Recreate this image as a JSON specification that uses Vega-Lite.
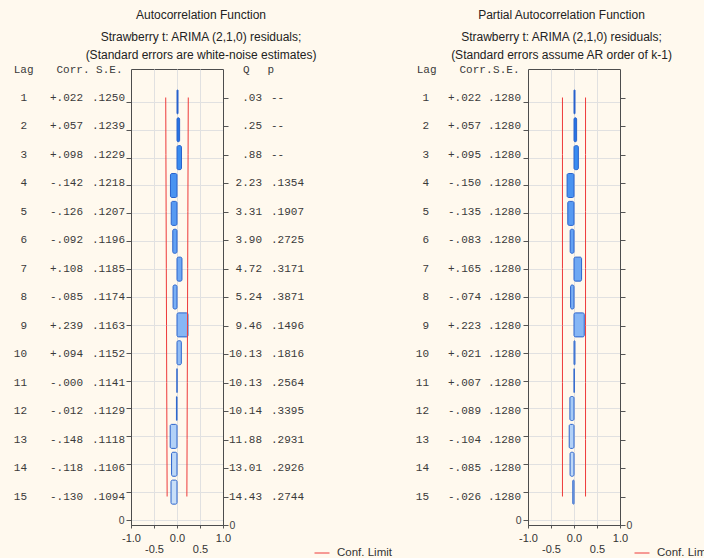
{
  "$schema": "https://vega.github.io/schema/vega-lite/v6.json",
  "background": "#FFF9EE",
  "padding": {"left": 5, "top": 8, "right": 0, "bottom": 0},
  "bounds": "flush",
  "spacing": 0,
  "resolve": {"scale": {"stroke": "independent"}, "legend": {"stroke": "independent"}},
  "config": {
    "view": {"stroke": null},
    "concat": {"spacing": 0},
    "font": "Liberation Sans",
    "axis": {"labelFont": "Liberation Sans"},
    "legend": {"labelFont": "Liberation Sans"},
    "title": {"anchor": "middle", "frame": "group", "offset": 7, "font": "Liberation Sans", "fontSize": 12, "fontWeight": "normal", "color": "#222222", "subtitleFont": "Liberation Sans", "subtitleFontSize": 12, "subtitleColor": "#222222", "subtitlePadding": 10, "subtitleLineHeight": 18}
  },
  "datasets": {
    "acf": [
      {"lag": 1, "corr": 0.022, "ct": "+.022", "se": ".1250", "q": ".03", "p": "--", "lo": -0.2450, "hi": 0.2450},
      {"lag": 2, "corr": 0.057, "ct": "+.057", "se": ".1239", "q": ".25", "p": "--", "lo": -0.2428, "hi": 0.2428},
      {"lag": 3, "corr": 0.098, "ct": "+.098", "se": ".1229", "q": ".88", "p": "--", "lo": -0.2409, "hi": 0.2409},
      {"lag": 4, "corr": -0.142, "ct": "-.142", "se": ".1218", "q": "2.23", "p": ".1354", "lo": -0.2387, "hi": 0.2387},
      {"lag": 5, "corr": -0.126, "ct": "-.126", "se": ".1207", "q": "3.31", "p": ".1907", "lo": -0.2366, "hi": 0.2366},
      {"lag": 6, "corr": -0.092, "ct": "-.092", "se": ".1196", "q": "3.90", "p": ".2725", "lo": -0.2344, "hi": 0.2344},
      {"lag": 7, "corr": 0.108, "ct": "+.108", "se": ".1185", "q": "4.72", "p": ".3171", "lo": -0.2323, "hi": 0.2323},
      {"lag": 8, "corr": -0.085, "ct": "-.085", "se": ".1174", "q": "5.24", "p": ".3871", "lo": -0.2301, "hi": 0.2301},
      {"lag": 9, "corr": 0.239, "ct": "+.239", "se": ".1163", "q": "9.46", "p": ".1496", "lo": -0.2279, "hi": 0.2279},
      {"lag": 10, "corr": 0.094, "ct": "+.094", "se": ".1152", "q": "10.13", "p": ".1816", "lo": -0.2258, "hi": 0.2258},
      {"lag": 11, "corr": -0.0004, "ct": "-.000", "se": ".1141", "q": "10.13", "p": ".2564", "lo": -0.2236, "hi": 0.2236},
      {"lag": 12, "corr": -0.012, "ct": "-.012", "se": ".1129", "q": "10.14", "p": ".3395", "lo": -0.2213, "hi": 0.2213},
      {"lag": 13, "corr": -0.148, "ct": "-.148", "se": ".1118", "q": "11.88", "p": ".2931", "lo": -0.2191, "hi": 0.2191},
      {"lag": 14, "corr": -0.118, "ct": "-.118", "se": ".1106", "q": "13.01", "p": ".2926", "lo": -0.2168, "hi": 0.2168},
      {"lag": 15, "corr": -0.130, "ct": "-.130", "se": ".1094", "q": "14.43", "p": ".2744", "lo": -0.2144, "hi": 0.2144}
    ],
    "pacf": [
      {"lag": 1, "corr": 0.022, "ct": "+.022", "se": ".1280", "lo": -0.2509, "hi": 0.2509},
      {"lag": 2, "corr": 0.057, "ct": "+.057", "se": ".1280", "lo": -0.2509, "hi": 0.2509},
      {"lag": 3, "corr": 0.095, "ct": "+.095", "se": ".1280", "lo": -0.2509, "hi": 0.2509},
      {"lag": 4, "corr": -0.150, "ct": "-.150", "se": ".1280", "lo": -0.2509, "hi": 0.2509},
      {"lag": 5, "corr": -0.135, "ct": "-.135", "se": ".1280", "lo": -0.2509, "hi": 0.2509},
      {"lag": 6, "corr": -0.083, "ct": "-.083", "se": ".1280", "lo": -0.2509, "hi": 0.2509},
      {"lag": 7, "corr": 0.165, "ct": "+.165", "se": ".1280", "lo": -0.2509, "hi": 0.2509},
      {"lag": 8, "corr": -0.074, "ct": "-.074", "se": ".1280", "lo": -0.2509, "hi": 0.2509},
      {"lag": 9, "corr": 0.223, "ct": "+.223", "se": ".1280", "lo": -0.2509, "hi": 0.2509},
      {"lag": 10, "corr": 0.021, "ct": "+.021", "se": ".1280", "lo": -0.2509, "hi": 0.2509},
      {"lag": 11, "corr": 0.007, "ct": "+.007", "se": ".1280", "lo": -0.2509, "hi": 0.2509},
      {"lag": 12, "corr": -0.089, "ct": "-.089", "se": ".1280", "lo": -0.2509, "hi": 0.2509},
      {"lag": 13, "corr": -0.104, "ct": "-.104", "se": ".1280", "lo": -0.2509, "hi": 0.2509},
      {"lag": 14, "corr": -0.085, "ct": "-.085", "se": ".1280", "lo": -0.2509, "hi": 0.2509},
      {"lag": 15, "corr": -0.026, "ct": "-.026", "se": ".1280", "lo": -0.2509, "hi": 0.2509}
    ]
  },
  "hconcat": [
    {
      "data": {"name": "acf"},
      "width": 22, "height": 456,
      "mark": {"type": "text", "align": "right", "baseline": "middle", "font": "Liberation Mono", "fontSize": 11, "color": "#3a3a3a"},
      "encoding": {
        "x": {"datum": "Lag", "type": "nominal", "scale": {"type": "point", "align": 1},
              "axis": {"orient": "top", "title": null, "domain": false, "ticks": false, "tickSize": 0, "labelPadding": 0, "labelBaseline": "middle", "labelAlign": "right", "labelAngle": 0, "labelOffset": 6, "labelFont": "Liberation Mono", "labelFontSize": 11, "labelColor": "#3a3a3a"}},
        "y": {"field": "lag", "type": "quantitative", "scale": {"domain": [0, 16], "reverse": true, "nice": false, "zero": false}, "axis": null},
        "text": {"field": "lag", "type": "nominal"}
      }
    },
    {
      "data": {"name": "acf"},
      "width": 56, "height": 456,
      "mark": {"type": "text", "align": "right", "baseline": "middle", "font": "Liberation Mono", "fontSize": 11, "color": "#3a3a3a"},
      "encoding": {
        "x": {"datum": "Corr.", "type": "nominal", "scale": {"type": "point", "align": 1},
              "axis": {"orient": "top", "title": null, "domain": false, "ticks": false, "tickSize": 0, "labelPadding": 0, "labelBaseline": "middle", "labelAlign": "right", "labelAngle": 0, "labelOffset": 6, "labelFont": "Liberation Mono", "labelFontSize": 11, "labelColor": "#3a3a3a"}},
        "y": {"field": "lag", "type": "quantitative", "scale": {"domain": [0, 16], "reverse": true, "nice": false, "zero": false}, "axis": null},
        "text": {"field": "ct", "type": "nominal"}
      }
    },
    {
      "data": {"name": "acf"},
      "width": 48, "height": 456,
      "mark": {"type": "text", "align": "right", "baseline": "middle", "font": "Liberation Mono", "fontSize": 11, "color": "#3a3a3a"},
      "encoding": {
        "x": {"datum": "S.E.", "type": "nominal", "scale": {"type": "point", "align": 0.875},
              "axis": {"orient": "top", "title": null, "domain": false, "ticks": false, "tickSize": 0, "labelPadding": 0, "labelBaseline": "middle", "labelAlign": "right", "labelAngle": 0, "labelOffset": -3, "labelFont": "Liberation Mono", "labelFontSize": 11, "labelColor": "#3a3a3a"}},
        "y": {"field": "lag", "type": "quantitative", "scale": {"domain": [0, 16], "reverse": true, "nice": false, "zero": false}, "axis": null},
        "text": {"field": "se", "type": "nominal"}
      }
    },
    {
      "data": {"name": "acf"},
      "title": {"text": "Autocorrelation Function", "subtitle": ["Strawberry t: ARIMA (2,1,0) residuals;", "(Standard errors are white-noise estimates)"], "dx": 24},
      "width": 92, "height": 456,
      "view": {"stroke": "#4d4d4d", "strokeWidth": 1},
      "layer": [
        {
          "mark": {"type": "bar", "orient": "horizontal", "height": 24, "stroke": "#2a63cc", "strokeWidth": 1, "cornerRadius": 1.5},
          "encoding": {
            "y": {"field": "lag", "type": "quantitative", "scale": {"domain": [0, 16], "reverse": true, "nice": false, "zero": false},
                  "axis": {"orient": "left", "title": null, "values": [1,2,3,4,5,6,7,8,9,10,11,12,13,14,15,16], "labelExpr": "datum.value == 16 ? '0' : ''", "grid": true, "gridColor": "#e1e1e1", "tickSize": 5, "tickColor": "#555555", "domainColor": "#4d4d4d", "labelPadding": 2, "labelFontSize": 10.5, "labelColor": "#444444", "labelBaseline": "middle", "labelFlush": false, "labelOverlap": false}},
            "x": {"field": "corr", "type": "quantitative", "scale": {"domain": [-1, 1], "nice": false, "zero": false},
                  "axis": {"title": null, "values": [-1, -0.5, 0, 0.5, 1], "format": ".1f", "labelExpr": "abs(datum.value) == 0.5 ? '' : replace(datum.label, '\u2212', '-')", "grid": true, "gridColor": "#e1e1e1", "tickSize": 3, "tickColor": "#555555", "domainColor": "#4d4d4d", "labelPadding": 4, "labelFontSize": 11, "labelColor": "#333333", "labelFlush": false, "labelOverlap": false, "labelBound": false}},
            "x2": {"datum": 0},
            "fill": {"field": "lag", "type": "quantitative", "scale": {"domain": [1, 3, 15], "range": ["#1a5ad6", "#3a8cf0", "#c9dff8"]}, "legend": null}
          }
        },
        {
          "mark": {"type": "line", "strokeWidth": 1},
          "encoding": {
            "y": {"field": "lag", "type": "quantitative", "scale": {"domain": [0, 16], "reverse": true, "nice": false, "zero": false},
                  "axis": {"orient": "right", "title": null, "values": [1,2,3,4,5,6,7,8,9,10,11,12,13,14,15,16], "labelExpr": "datum.value == 16 ? '0' : ''", "grid": false, "tickSize": 5, "tickColor": "#555555", "domainColor": "#4d4d4d", "labelPadding": 1, "labelFontSize": 10.5, "labelColor": "#444444", "labelBaseline": "middle", "labelFlush": false, "labelOverlap": false}},
            "x": {"field": "lo", "type": "quantitative", "scale": {"domain": [-1, 1], "nice": false, "zero": false}, "axis": null},
            "order": {"field": "lag"},
            "stroke": {"datum": "Conf. Limit", "type": "nominal", "scale": {"range": ["#ee3a3a"]},
                       "legend": {"orient": "none", "legendX": 183, "legendY": 476, "title": null, "symbolType": "stroke", "symbolSize": 225, "symbolStrokeWidth": 1, "labelFontSize": 11.5, "labelColor": "#333333", "labelOffset": 7, "padding": 0}}
          }
        },
        {
          "mark": {"type": "line", "strokeWidth": 1},
          "encoding": {
            "y": {"field": "lag", "type": "quantitative", "scale": {"domain": [0, 16], "reverse": true, "nice": false, "zero": false}, "axis": null},
            "x": {"field": "hi", "type": "quantitative", "scale": {"domain": [-1, 1], "nice": false, "zero": false},
                  "axis": {"orient": "bottom", "title": null, "values": [-0.5, 0.5], "format": ".1f", "labelExpr": "replace(datum.label, '\u2212', '-')", "grid": false, "domain": false, "ticks": false, "tickSize": 0, "labelPadding": 18, "labelFontSize": 11, "labelColor": "#333333", "labelFlush": false, "labelOverlap": false, "labelBound": false}},
            "order": {"field": "lag"},
            "stroke": {"datum": "Conf. Limit", "type": "nominal"}
          }
        }
      ],
      "resolve": {"scale": {"y": "independent", "x": "independent"}, "axis": {"y": "independent", "x": "independent"}}
    },
    {
      "data": {"name": "acf"},
      "width": 39, "height": 456,
      "mark": {"type": "text", "align": "right", "baseline": "middle", "font": "Liberation Mono", "fontSize": 11, "color": "#3a3a3a"},
      "encoding": {
        "x": {"datum": "Q", "type": "nominal", "scale": {"type": "point", "align": 1},
              "axis": {"orient": "top", "title": null, "domain": false, "ticks": false, "tickSize": 0, "labelPadding": 0, "labelBaseline": "middle", "labelAlign": "right", "labelAngle": 0, "labelOffset": -13, "labelFont": "Liberation Mono", "labelFontSize": 11, "labelColor": "#3a3a3a"}},
        "y": {"field": "lag", "type": "quantitative", "scale": {"domain": [0, 16], "reverse": true, "nice": false, "zero": false}, "axis": null},
        "text": {"field": "q", "type": "nominal"}
      }
    },
    {
      "data": {"name": "acf"},
      "width": 108, "height": 456,
      "mark": {"type": "text", "align": "left", "baseline": "middle", "font": "Liberation Mono", "fontSize": 11, "color": "#3a3a3a"},
      "encoding": {
        "x": {"datum": "p", "type": "nominal", "scale": {"type": "point", "align": 0.0833},
              "axis": {"orient": "top", "title": null, "domain": false, "ticks": false, "tickSize": 0, "labelPadding": 0, "labelBaseline": "middle", "labelAlign": "left", "labelAngle": 0, "labelOffset": -4, "labelFont": "Liberation Mono", "labelFontSize": 11, "labelColor": "#3a3a3a"}},
        "y": {"field": "lag", "type": "quantitative", "scale": {"domain": [0, 16], "reverse": true, "nice": false, "zero": false}, "axis": null},
        "text": {"field": "p", "type": "nominal"}
      }
    },
    {
      "data": {"name": "pacf"},
      "width": 59, "height": 456,
      "mark": {"type": "text", "align": "right", "baseline": "middle", "font": "Liberation Mono", "fontSize": 11, "color": "#3a3a3a"},
      "encoding": {
        "x": {"datum": "Lag", "type": "nominal", "scale": {"type": "point", "align": 1},
              "axis": {"orient": "top", "title": null, "domain": false, "ticks": false, "tickSize": 0, "labelPadding": 0, "labelBaseline": "middle", "labelAlign": "right", "labelAngle": 0, "labelOffset": 7, "labelFont": "Liberation Mono", "labelFontSize": 11, "labelColor": "#3a3a3a"}},
        "y": {"field": "lag", "type": "quantitative", "scale": {"domain": [0, 16], "reverse": true, "nice": false, "zero": false}, "axis": null},
        "text": {"field": "lag", "type": "nominal"}
      }
    },
    {
      "data": {"name": "pacf"},
      "width": 52, "height": 456,
      "mark": {"type": "text", "align": "right", "baseline": "middle", "font": "Liberation Mono", "fontSize": 11, "color": "#3a3a3a"},
      "encoding": {
        "x": {"datum": "Corr.", "type": "nominal", "scale": {"type": "point", "align": 1},
              "axis": {"orient": "top", "title": null, "domain": false, "ticks": false, "tickSize": 0, "labelPadding": 0, "labelBaseline": "middle", "labelAlign": "right", "labelAngle": 0, "labelOffset": 11, "labelFont": "Liberation Mono", "labelFontSize": 11, "labelColor": "#3a3a3a"}},
        "y": {"field": "lag", "type": "quantitative", "scale": {"domain": [0, 16], "reverse": true, "nice": false, "zero": false}, "axis": null},
        "text": {"field": "ct", "type": "nominal"}
      }
    },
    {
      "data": {"name": "pacf"},
      "width": 47, "height": 456,
      "mark": {"type": "text", "align": "right", "baseline": "middle", "font": "Liberation Mono", "fontSize": 11, "color": "#3a3a3a"},
      "encoding": {
        "x": {"datum": "S.E.", "type": "nominal", "scale": {"type": "point", "align": 0.851},
              "axis": {"orient": "top", "title": null, "domain": false, "ticks": false, "tickSize": 0, "labelPadding": 0, "labelBaseline": "middle", "labelAlign": "right", "labelAngle": 0, "labelOffset": -2, "labelFont": "Liberation Mono", "labelFontSize": 11, "labelColor": "#3a3a3a"}},
        "y": {"field": "lag", "type": "quantitative", "scale": {"domain": [0, 16], "reverse": true, "nice": false, "zero": false}, "axis": null},
        "text": {"field": "se", "type": "nominal"}
      }
    },
    {
      "data": {"name": "pacf"},
      "title": {"text": "Partial Autocorrelation Function", "subtitle": ["Strawberry t: ARIMA (2,1,0) residuals;", "(Standard errors assume AR order of k-1)"], "dx": -12.5},
      "width": 92, "height": 456,
      "view": {"stroke": "#4d4d4d", "strokeWidth": 1},
      "layer": [
        {
          "mark": {"type": "bar", "orient": "horizontal", "height": 24, "stroke": "#2a63cc", "strokeWidth": 1, "cornerRadius": 1.5},
          "encoding": {
            "y": {"field": "lag", "type": "quantitative", "scale": {"domain": [0, 16], "reverse": true, "nice": false, "zero": false},
                  "axis": {"orient": "left", "title": null, "values": [1,2,3,4,5,6,7,8,9,10,11,12,13,14,15,16], "labelExpr": "datum.value == 16 ? '0' : ''", "grid": true, "gridColor": "#e1e1e1", "tickSize": 5, "tickColor": "#555555", "domainColor": "#4d4d4d", "labelPadding": 2, "labelFontSize": 10.5, "labelColor": "#444444", "labelBaseline": "middle", "labelFlush": false, "labelOverlap": false}},
            "x": {"field": "corr", "type": "quantitative", "scale": {"domain": [-1, 1], "nice": false, "zero": false},
                  "axis": {"title": null, "values": [-1, -0.5, 0, 0.5, 1], "format": ".1f", "labelExpr": "abs(datum.value) == 0.5 ? '' : replace(datum.label, '\u2212', '-')", "grid": true, "gridColor": "#e1e1e1", "tickSize": 3, "tickColor": "#555555", "domainColor": "#4d4d4d", "labelPadding": 4, "labelFontSize": 11, "labelColor": "#333333", "labelFlush": false, "labelOverlap": false, "labelBound": false}},
            "x2": {"datum": 0},
            "fill": {"field": "lag", "type": "quantitative", "scale": {"domain": [1, 3, 15], "range": ["#1a5ad6", "#3a8cf0", "#c9dff8"]}, "legend": null}
          }
        },
        {
          "mark": {"type": "line", "strokeWidth": 1},
          "encoding": {
            "y": {"field": "lag", "type": "quantitative", "scale": {"domain": [0, 16], "reverse": true, "nice": false, "zero": false},
                  "axis": {"orient": "right", "title": null, "values": [1,2,3,4,5,6,7,8,9,10,11,12,13,14,15,16], "labelExpr": "datum.value == 16 ? '0' : ''", "grid": false, "tickSize": 5, "tickColor": "#555555", "domainColor": "#4d4d4d", "labelPadding": 1, "labelFontSize": 10.5, "labelColor": "#444444", "labelBaseline": "middle", "labelFlush": false, "labelOverlap": false}},
            "x": {"field": "lo", "type": "quantitative", "scale": {"domain": [-1, 1], "nice": false, "zero": false}, "axis": null},
            "order": {"field": "lag"},
            "stroke": {"datum": "Conf. Limit", "type": "nominal", "scale": {"range": ["#ee3a3a"]},
                       "legend": {"orient": "none", "legendX": 106, "legendY": 476, "title": null, "symbolType": "stroke", "symbolSize": 225, "symbolStrokeWidth": 1, "labelFontSize": 11.5, "labelColor": "#333333", "labelOffset": 7, "padding": 0}}
          }
        },
        {
          "mark": {"type": "line", "strokeWidth": 1},
          "encoding": {
            "y": {"field": "lag", "type": "quantitative", "scale": {"domain": [0, 16], "reverse": true, "nice": false, "zero": false}, "axis": null},
            "x": {"field": "hi", "type": "quantitative", "scale": {"domain": [-1, 1], "nice": false, "zero": false},
                  "axis": {"orient": "bottom", "title": null, "values": [-0.5, 0.5], "format": ".1f", "labelExpr": "replace(datum.label, '\u2212', '-')", "grid": false, "domain": false, "ticks": false, "tickSize": 0, "labelPadding": 18, "labelFontSize": 11, "labelColor": "#333333", "labelFlush": false, "labelOverlap": false, "labelBound": false}},
            "order": {"field": "lag"},
            "stroke": {"datum": "Conf. Limit", "type": "nominal"}
          }
        }
      ],
      "resolve": {"scale": {"y": "independent", "x": "independent"}, "axis": {"y": "independent", "x": "independent"}}
    }
  ]
}
